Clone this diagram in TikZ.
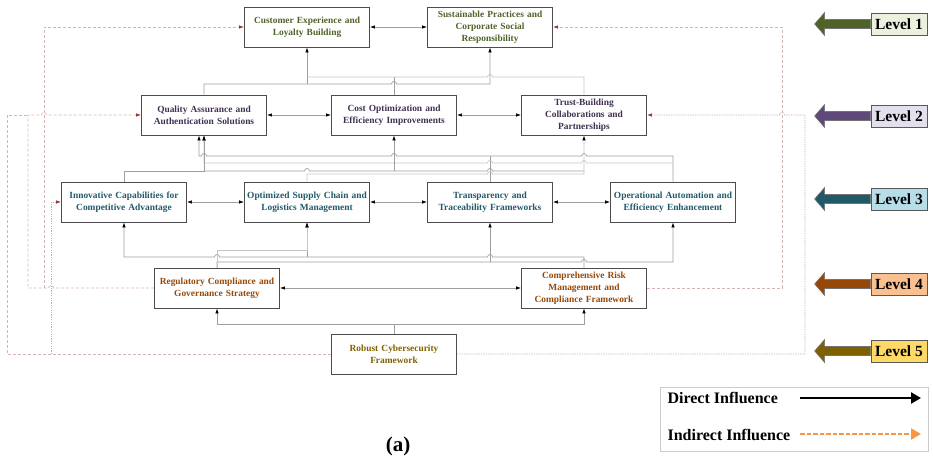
\documentclass[tikz,border=0pt]{standalone}
\usepackage{fontspec}
\setmainfont{Liberation Serif}
\usepackage{tikz}
\usetikzlibrary{arrows.meta}

\definecolor{txA}{HTML}{4F6228}
\definecolor{txB}{HTML}{403151}
\definecolor{txC}{HTML}{215968}
\definecolor{txD}{HTML}{974706}
\definecolor{txE}{HTML}{7F6000}
\definecolor{arB}{HTML}{5F497A}
\definecolor{bgA}{HTML}{EBF1DE}
\definecolor{bgB}{HTML}{E4DFEC}
\definecolor{bgC}{HTML}{B7DEE8}
\definecolor{bgD}{HTML}{FAC090}
\definecolor{bgE}{HTML}{FFD966}
\definecolor{dashc}{HTML}{D6B4B4}
\definecolor{dotc}{HTML}{C9AAAA}
\definecolor{tipred}{HTML}{953735}
\definecolor{legor}{HTML}{F79646}

% small hop where a line passes over another one
\newcommand{\hopR}[2]{-- (#1-2.5,#2) arc[start angle=180,end angle=360,radius=2.5]}
\newcommand{\hopL}[2]{-- (#1+2.5,#2) arc[start angle=0,end angle=-180,radius=2.5]}

\begin{document}
\begin{tikzpicture}[x=1pt,y=-1pt,
    >={Latex[length=5pt,width=3.5pt,color=black]},
    box/.style={draw=gray!60!black,line width=0.9,minimum width=125,minimum height=40,
      inner sep=0,text width=122,align=center,font=\fontsize{9.4}{12}\selectfont\bfseries},
    link/.style={draw=gray!75,line width=0.7},
    linklt/.style={draw=gray!45,line width=0.7},
    ind/.style={draw=dashc,line width=0.7,dash pattern=on 3pt off 2pt,
      -{Latex[length=5pt,width=3.5pt,color=tipred]}},
    indd/.style={ind,draw=dotc,dash pattern=on 1.2pt off 1.2pt},
    lvbox/.style={draw=black!65,line width=0.7,minimum width=56,minimum height=22,
      inner sep=0,font=\fontsize{15.5}{15.5}\selectfont\bfseries},
    lvarrow/.style={draw=black!55,line width=0.6}]
  \useasboundingbox (0,0) rectangle (933,462);

  % boxes
  \node[box,text=txA] (CE) at (307,27) {Customer Experience and\\Loyalty Building};
  \node[box,text=txA] (SP) at (490,27) {Sustainable Practices and\\Corporate Social\\Responsibility};
  \node[box,text=txB] (QA) at (204,115) {Quality Assurance and\\Authentication Solutions};
  \node[box,text=txB] (CO) at (394,115) {Cost Optimization and\\Efficiency Improvements};
  \node[box,text=txB] (TB) at (584,115) {Trust-Building\\Collaborations and\\Partnerships};
  \node[box,text=txC] (IC) at (124,202) {Innovative Capabilities for\\Competitive Advantage};
  \node[box,text=txC] (OS) at (307,202) {Optimized Supply Chain and\\Logistics Management};
  \node[box,text=txC] (TT) at (490,202) {Transparency and\\Traceability Frameworks};
  \node[box,text=txC] (OA) at (673,202) {Operational Automation and\\Efficiency Enhancement};
  \node[box,text=txD] (RC) at (217,288) {Regulatory Compliance and\\Governance Strategy};
  \node[box,text=txD] (CR) at (584,288) {Comprehensive Risk\\Management and\\Compliance Framework};
  \node[box,text=txE] (RF) at (394,354) {Robust Cybersecurity\\Framework};

  % junctions
  \coordinate (jCE) at (307,84);
  \coordinate (jOA) at (673,163);
  \coordinate (jQA) at (204,171);
  \coordinate (jCO) at (394,171);
  \coordinate (jOS) at (307,257);
  \coordinate (jTT) at (490,262);
  \coordinate (jRF) at (394,324);
  \coordinate (j44) at (44,288);
  \coordinate (j28) at (28,115);
  \coordinate (j51) at (51,354);

  % direct influence
  \draw[link,<->] (CE.east) -- (SP.west);
  \draw[link,<->] (QA.east) -- (CO.west);
  \draw[link,<->] (CO.east) -- (TB.west);
  \draw[link,<->] (IC.east) -- (OS.west);
  \draw[link,<->] (OS.east) -- (TT.west);
  \draw[link,<->] (TT.east) -- (OA.west);
  \draw[link,<->] (RC.east) -- (CR.west);

  \draw[link,->] (QA.north) -- (204,84) \hopR{394}{84} -- (490,84) -- (SP.south);
  \draw[link,->] (jCE) -- (CE.south);
  \draw[linklt] (TB.north) -- (584,77) \hopL{490}{77} -- (307,77);
  \draw[link] (CO.north) -- (394,77);

  \draw[link,->] (OA.north) -- (673,156) \hopL{584}{156} \hopL{394}{156} \hopL{204}{156}
    -- (199,156) -- ([xshift=-5]QA.south);
  \draw[link] (TT.north) -- (490,156);
  \draw[linklt,->] (jOA) \hopL{584}{163} \hopL{490}{163} -- (204,163) -- (QA.south);
  \draw[link,->] (IC.north) -- (124,171) -- (jQA) -- (QA.south);
  \draw[link] (jQA) \hopR{307}{171} \hopR{490}{171} -- (584,171);
  \draw[link,->] (jCO) -- (CO.south);
  \draw[linklt,->] (OS.north) -- (307,174) \hopR{490}{174} -- (584,174) -- (TB.south);

  \draw[link,->] (CR.north) -- (584,257) \hopL{490}{257} \hopL{217}{257} -- (124,257) -- (IC.south);
  \draw[link,->] (jOS) -- (OS.south);
  \draw[link,->] (RC.north) -- (217,262) \hopR{584}{262} -- (673,262) -- (OA.south);
  \draw[link,->] (jTT) -- (TT.south);
  \draw[linklt,->] (RC.north) -- (217,250) -- (307,250) -- (OS.south);

  \draw[link,->] (RF.north) -- (jRF) -- (217,324) -- (RC.south);
  \draw[link,->] (jRF) -- (584,324) -- (CR.south);

  % indirect influence
  \draw[ind] (RC.west) \hopL{51}{288} -- (28,288) -- (j28) \hopR{44}{115} -- (QA.west);
  \draw[ind] (j44) -- (44,27) -- (CE.west);
  \draw[ind,-] (RF.west) -- (7,354) -- (7,115) -- (j28);
  \draw[indd] (j51) -- (51,202) -- (IC.west);
  \draw[indd] (RF.east) -- (805,354) -- (805,115) \hopL{782}{115} -- (TB.east);
  \draw[ind] (CR.east) -- (782,288) -- (782,27) -- (SP.east);

  % levels
  \node[lvbox,fill=bgA] (L1) at (899,24) {Level 1};
  \node[lvbox,fill=bgB] (L2) at (899,116) {Level 2};
  \node[lvbox,fill=bgC] (L3) at (899,199) {Level 3};
  \node[lvbox,fill=bgD] (L4) at (899,284) {Level 4};
  \node[lvbox,fill=bgE] (L5) at (899,351) {Level 5};
  \filldraw[lvarrow,fill=txA] ([yshift=4.5]L1.west) -- ++(-46,0) -- ++(0,-7) -- ++(-10,11.5) -- ++(10,11.5) -- ++(0,-7) -- ++(46,0) -- cycle;
  \filldraw[lvarrow,fill=arB] ([yshift=4.5]L2.west) -- ++(-46,0) -- ++(0,-7) -- ++(-10,11.5) -- ++(10,11.5) -- ++(0,-7) -- ++(46,0) -- cycle;
  \filldraw[lvarrow,fill=txC] ([yshift=4.5]L3.west) -- ++(-46,0) -- ++(0,-7) -- ++(-10,11.5) -- ++(10,11.5) -- ++(0,-7) -- ++(46,0) -- cycle;
  \filldraw[lvarrow,fill=txD] ([yshift=4.5]L4.west) -- ++(-46,0) -- ++(0,-7) -- ++(-10,11.5) -- ++(10,11.5) -- ++(0,-7) -- ++(46,0) -- cycle;
  \filldraw[lvarrow,fill=txE] ([yshift=4.5]L5.west) -- ++(-46,0) -- ++(0,-7) -- ++(-10,11.5) -- ++(10,11.5) -- ++(0,-7) -- ++(46,0) -- cycle;

  % legend
  \node[draw=gray!40,line width=0.8,minimum width=268,minimum height=64] (LG) at (794,419) {};
  \node[anchor=west,font=\fontsize{16}{16}\selectfont\bfseries] (DI) at (664,398) {Direct Influence};
  \node[anchor=west,font=\fontsize{16}{16}\selectfont\bfseries] (II) at (664,435) {Indirect Influence};
  \coordinate (d1) at (800,398);
  \coordinate (d2) at (921,398);
  \coordinate (i1) at (800,434);
  \coordinate (i2) at (921,434);
  \draw[line width=2.4,-{Triangle[length=10pt,width=11pt]}] (d1) -- (d2);
  \draw[legor,line width=2.2,dash pattern=on 4.5pt off 2pt,-{Triangle[length=10pt,width=11pt]}] (i1) -- (i2);

  \node[font=\fontsize{21}{21}\selectfont\bfseries] (CAP) at (398,446) {(a)};
\end{tikzpicture}
\end{document}
